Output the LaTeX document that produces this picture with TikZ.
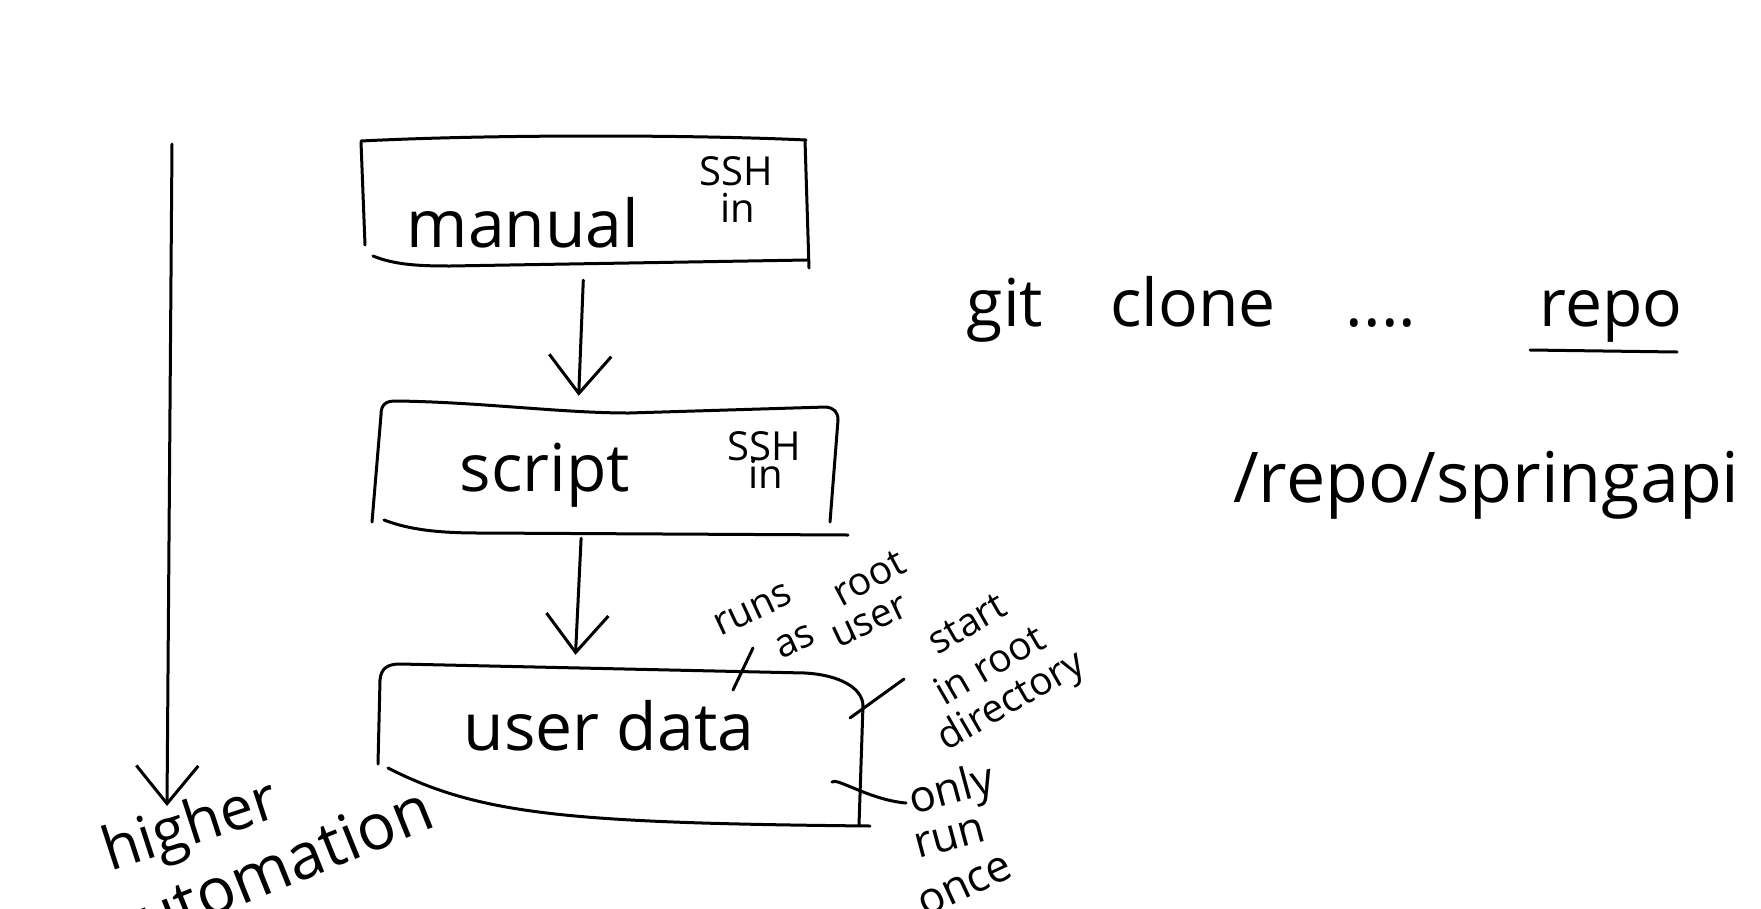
\documentclass[tikz,border=0pt]{standalone}
\usepackage{fontspec}
\setmainfont{Open Sans}
\usetikzlibrary{arrows.meta,calc}
\newcommand\myfs[1]{\fontsize{#1}{#1}\selectfont}
\begin{document}
\begin{tikzpicture}[x=1pt,y=-1pt,
  ink/.style={line width=3pt,line cap=round,line join=round,black},
  arr/.style={ink,-{Straight Barb[length=38pt,width=62pt]}},
  boxarea/.style={draw=none,inner sep=0pt},
  big/.style={inner sep=0pt,font=\myfs{66}},
  small/.style={inner sep=0pt,font=\myfs{40}},
  note/.style={inner sep=0pt,font=\myfs{39}}]
\useasboundingbox (0,0) rectangle (1761,908);
\clip (0,0) rectangle (1761,908);
\fill[white] (0,0) rectangle (1761,908);

% invisible box areas
\node[boxarea,minimum width=445pt,minimum height=122pt] (manual) at (585.5,201) {};
\node[boxarea,minimum width=459pt,minimum height=129pt] (script) at (607.5,465.5) {};
\node[boxarea,minimum width=488pt,minimum height=160pt] (user) at (624,745) {};
\coordinate (topL) at (172,144);
\coordinate (botL) at (167,806);

% hand-drawn outlines: manual
\draw[ink] (361,141) .. controls (500,134) and (700,135) .. (806,140);
\draw[ink] (361,142) -- (365,245);
\draw[ink] (805,140) -- (809,268);
\draw[ink] (373,256) .. controls (395,265) and (420,266) .. (450,266) -- (807,260);
% script
\draw[ink] (381,415) .. controls (381,404) and (386,401) .. (396,401)
  .. controls (480,402) and (560,413) .. (629,413) -- (826,407)
  .. controls (834,408) and (838,412) .. (838,420);
\draw[ink] (381,415) -- (372,522);
\draw[ink] (838,420) -- (830,522);
\draw[ink] (384,520) .. controls (410,530) and (440,533) .. (480,533) -- (848,535);
% user data
\draw[ink] (380,680) .. controls (381,668) and (388,664) .. (400,664)
  -- (805,673) .. controls (840,675) and (862,688) .. (863,705);
\draw[ink] (380,680) -- (378,764);
\draw[ink] (863,705) -- (859,825);
\draw[ink] (388,768) .. controls (480,815) and (570,823) .. (870,826);

% arrows
\draw[arr,shorten <=18pt,shorten >=5pt] ([xshift=-1.5pt]manual.south) -- ([xshift=-29pt]script.north);
\draw[arr,shorten <=8pt,shorten >=10pt] ([xshift=-26pt]script.south) -- ([xshift=-49pt]user.north);
\draw[arr] (topL) -- (botL);

% box texts
\node[big,anchor=base] at (523,247) {manual};
\node[small,anchor=base] at (736,185) {SSH};
\node[small,anchor=base] at (738,222) {in};
\node[big,anchor=base] at (545,491) {script};
\node[small,anchor=base] at (764,460) {SSH};
\node[small,anchor=base] at (766,488) {in};
\node[big,anchor=base] at (609,750) {user data};

% notes
\node[note,rotate=25] (runs) at (753,610) {runs};
\node[note,rotate=25] (as) at (795,642) {as};
\node[note,rotate=28] (root1) at (869,578) {root};
\node[note,rotate=25] (usr) at (870,622) {user};
\node[note,rotate=30] (start) at (967,624) {start};
\node[note,rotate=30] (inroot) at (989,664) {in root};
\node[note,rotate=30] (dir) at (1012,702) {directory};
\node[note,font=\myfs{44},rotate=15] (only) at (952,792) {only};
\node[note,font=\myfs{44},rotate=15] (run) at (950,838) {run};
\node[note,font=\myfs{44},rotate=25] (once) at (965,886) {once};

\coordinate (l1a) at (733,690);
\coordinate (l1b) at (753,648);
\draw[ink] (l1a) -- (l1b);
\coordinate (l2a) at (850,718);
\coordinate (l2b) at (904,679);
\draw[ink] (l2a) -- (l2b);
\coordinate (l3a) at (832,782);
\coordinate (l3b) at (906,803);
\draw[ink] (l3a) .. controls (836,777) and (870,800) .. (l3b);

% higher automation
\node[inner sep=0pt,font=\myfs{60},rotate=18] at (191,829) {higher};
\node[inner sep=0pt,font=\myfs{64},rotate=22,anchor=base east] at (438,826) {automation};

% right side
\node[big,anchor=base] at (1005,326) {git};
\node[big,anchor=base] at (1193,326) {clone};
\node[big,anchor=base] at (1381,326) {....};
\node[big,anchor=base] (repo) at (1611,326) {repo};
\draw[ink] (1530,350) -- (1677,352);
\node[inner sep=0pt,font=\myfs{70},anchor=base west] at (1233,502) {/repo/springapi};
\end{tikzpicture}
\end{document}
